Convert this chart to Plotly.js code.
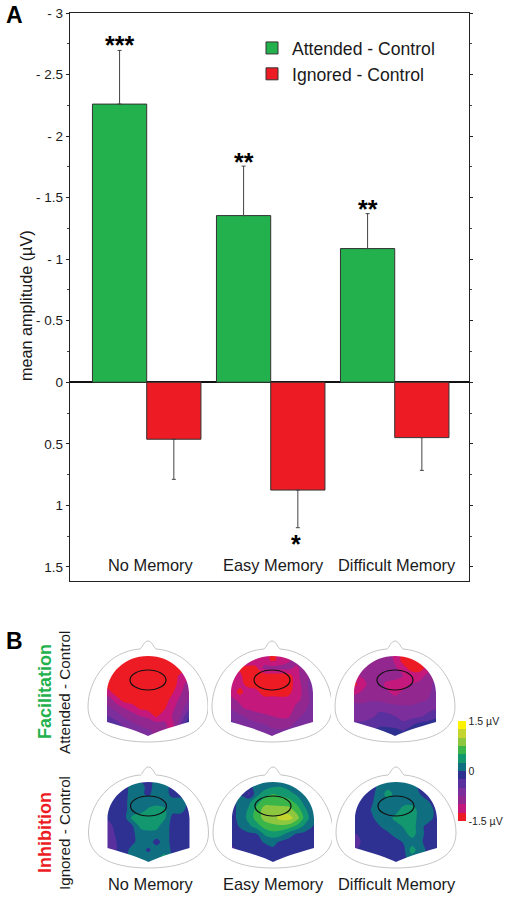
<!DOCTYPE html>
<html><head><meta charset="utf-8">
<script src="https://cdn.plot.ly/plotly-3.0.1.min.js"></script>
<style>html,body{margin:0;padding:0;background:#fff}#c{width:509px;height:901px}</style>
</head><body><div id="c"></div>
<script>
const conditions = ['No Memory','Easy Memory','Difficult Memory'];
const attendedMean = [-2.26,-1.354,-1.086];
const attendedErr  = [0.436,0.402,0.284];
const ignoredMean  = [0.463,0.876,0.45];
const ignoredErr   = [0.326,0.306,0.266];
const yTickVals = [-3,-2.5,-2,-1.5,-1,-0.5,0,0.5,1,1.5];
const yTickText = ['- 3','- 2.5','- 2','- 1.5','- 1','- 0.5','0','0.5','1','1.5'];
const yMinorVals = [-2.75,-2.25,-1.75,-1.25,-0.75,-0.25,0.25,0.75,1.25];

// scalp grids (µV): rows run front to back, columns left to right
const gridX = [-48,-40,-32,-24,-16,-8,0,8,16,24,32,40,48];
const gridY = [-4,4,12,20,28,36,44,52,60,68,76,84];
const mapAttNo = [
[-1.4,-1.4,-1.4,-1.4,-1.4,-1.4,-1.4,-1.4,-1.4,-1.4,-1.4,-1.4,-1.4],
[-1.4,-1.4,-1.4,-1.4,-1.4,-1.4,-1.4,-1.4,-1.4,-1.4,-1.4,-1.4,-1.4],
[-1.4,-1.4,-1.4,-1.4,-1.4,-1.4,-1.4,-1.4,-1.4,-1.4,-1.4,-1.3,-1.2],
[-1.4,-1.4,-1.4,-1.4,-1.4,-1.4,-1.4,-1.4,-1.4,-1.4,-1.2,-1.05,-0.9],
[-1.4,-1.4,-1.4,-1.4,-1.4,-1.4,-1.4,-1.4,-1.4,-1.4,-1.15,-0.9,-0.7],
[-1.1,-1.15,-1.4,-1.4,-1.4,-1.4,-1.4,-1.4,-1.4,-1.3,-1.05,-0.85,-0.6],
[-0.8,-0.85,-1.1,-1.35,-1.4,-1.4,-1.4,-1.4,-1.4,-1.15,-0.95,-0.75,-0.5],
[-0.6,-0.7,-0.85,-1.0,-1.1,-1.3,-1.35,-1.4,-1.3,-1.05,-0.9,-0.6,-0.3],
[-0.4,-0.5,-0.6,-0.8,-0.9,-1.0,-1.05,-1.3,-1.1,-1.0,-0.8,-0.3,-0.1],
[-0.3,-0.35,-0.42,-0.55,-0.7,-0.8,-0.85,-0.9,-0.95,-1.1,-0.6,-0.15,-0.1],
[-0.3,-0.35,-0.4,-0.45,-0.5,-0.6,-0.7,-0.8,-0.95,-1.05,-0.7,-0.3,-0.2],
[-0.3,-0.35,-0.4,-0.45,-0.5,-0.6,-0.7,-0.8,-0.95,-1.0,-0.7,-0.3,-0.2]];
const mapAttEasy = [
[-1.0,-1.0,-1.0,-1.0,-1.0,-1.1,-1.3,-1.2,-1.0,-0.9,-0.9,-0.8,-0.8],
[-1.0,-1.0,-1.0,-1.0,-1.1,-1.1,-1.3,-1.2,-1.05,-0.9,-0.9,-0.8,-0.8],
[-1.3,-1.3,-1.3,-1.35,-1.3,-0.95,-0.9,-0.9,-0.9,-1.05,-0.9,-0.8,-0.7],
[-1.1,-1.1,-1.2,-1.4,-1.4,-1.4,-1.4,-1.4,-1.4,-1.1,-0.85,-0.7,-0.6],
[-1.0,-1.05,-1.15,-1.35,-1.4,-1.4,-1.4,-1.4,-1.4,-1.15,-0.9,-0.6,-0.55],
[-1.0,-1.1,-1.35,-1.1,-1.15,-1.4,-1.4,-1.4,-1.35,-1.12,-0.95,-0.6,-0.5],
[-0.9,-0.95,-1.05,-1.1,-1.12,-1.12,-1.12,-1.15,-1.15,-1.05,-0.95,-0.65,-0.5],
[-0.7,-0.8,-0.95,-1.05,-1.1,-1.12,-1.12,-1.15,-1.15,-0.95,-0.85,-0.6,-0.5],
[-0.55,-0.6,-0.7,-0.8,-0.9,-0.95,-1.0,-1.05,-1.05,-0.85,-0.7,-0.6,-0.5],
[-0.4,-0.45,-0.55,-0.65,-0.7,-0.75,-0.8,-0.85,-0.85,-0.7,-0.6,-0.5,-0.4],
[-0.35,-0.4,-0.45,-0.5,-0.6,-0.65,-0.7,-0.7,-0.65,-0.55,-0.5,-0.4,-0.4],
[-0.35,-0.4,-0.45,-0.5,-0.6,-0.65,-0.7,-0.7,-0.65,-0.55,-0.5,-0.4,-0.4]];
const mapAttDiff = [
[-0.8,-0.8,-0.8,-0.8,-0.8,-0.85,-1.05,-1.3,-1.35,-1.2,-1.0,-0.8,-0.8],
[-0.8,-0.8,-0.8,-0.8,-0.8,-0.85,-1.05,-1.35,-1.4,-1.3,-1.05,-0.8,-0.8],
[-0.8,-0.8,-0.8,-0.8,-0.75,-0.8,-0.95,-1.15,-1.35,-1.4,-1.15,-0.8,-0.75],
[-1.0,-1.05,-0.95,-0.8,-0.75,-0.8,-0.9,-1.0,-1.1,-1.1,-0.95,-0.75,-0.7],
[-1.2,-1.3,-1.12,-0.85,-0.85,-1.1,-1.12,-1.12,-1.0,-0.95,-0.85,-0.7,-0.65],
[-1.0,-1.1,-0.95,-0.8,-0.8,-0.95,-1.1,-0.95,-0.95,-0.85,-0.8,-0.7,-0.65],
[-0.75,-0.78,-0.78,-0.78,-0.8,-0.85,-0.88,-0.85,-0.85,-0.8,-0.75,-0.65,-0.6],
[-0.7,-0.7,-0.7,-0.55,-0.55,-0.6,-0.65,-0.7,-0.7,-0.65,-0.6,-0.55,-0.5],
[-0.65,-0.62,-0.6,-0.55,-0.45,-0.45,-0.5,-0.6,-0.6,-0.55,-0.45,-0.3,-0.2],
[-0.5,-0.45,-0.45,-0.4,-0.35,-0.35,-0.4,-0.45,-0.3,-0.2,-0.15,-0.15,-0.1],
[-0.35,-0.35,-0.35,-0.3,-0.1,-0.1,-0.1,-0.25,-0.15,-0.1,-0.1,-0.1,-0.1],
[-0.35,-0.35,-0.35,-0.3,-0.1,-0.1,-0.1,-0.25,-0.15,-0.1,-0.1,-0.1,-0.1]];
const mapIgnNo = [
[-0.1,-0.1,-0.1,-0.1,0.1,-0.1,-0.1,0.1,0.1,-0.1,-0.1,-0.1,-0.1],
[-0.1,-0.1,-0.1,-0.1,0.12,0.1,-0.1,0.12,0.12,-0.1,-0.1,-0.1,-0.1],
[-0.1,-0.1,-0.1,-0.1,0.14,0.05,-0.05,0.14,0.1,-0.08,-0.1,-0.1,-0.1],
[-0.1,-0.1,-0.1,-0.05,0.1,0.12,0.12,0.14,0.14,0.1,0.12,-0.05,-0.1],
[-0.15,-0.15,-0.12,-0.05,0.1,0.14,0.3,0.4,0.3,0.08,0.08,-0.08,-0.1],
[-0.25,-0.2,-0.15,-0.08,0.32,0.42,0.42,0.42,0.3,-0.08,-0.1,-0.1,-0.1],
[-0.4,-0.35,-0.15,-0.1,-0.02,0.32,0.4,0.35,0.08,-0.05,-0.1,-0.1,-0.1],
[-0.45,-0.4,-0.2,-0.1,-0.05,0.12,0.14,0.14,0.12,-0.08,-0.1,-0.1,-0.1],
[-0.45,-0.4,-0.25,-0.1,-0.05,0.1,0.12,-0.1,0.12,-0.08,-0.1,-0.1,-0.1],
[-0.4,-0.35,-0.25,-0.1,0.1,0.1,-0.05,0.14,0.14,-0.05,-0.1,-0.3,-0.2],
[-0.3,-0.3,-0.2,-0.08,0.12,0.12,0.14,0.15,0.38,-0.05,-0.1,-0.1,-0.1],
[-0.3,-0.3,-0.2,-0.08,0.06,0.12,0.12,0.12,0.1,-0.05,-0.1,-0.1,-0.1]];
const mapIgnEasy = [
[-0.1,-0.1,-0.1,-0.1,-0.05,0.02,0.08,0.08,0.02,-0.1,-0.1,-0.1,-0.1],
[-0.1,-0.1,-0.1,-0.08,0.1,0.13,0.2,0.22,0.14,0.06,-0.02,-0.1,-0.1],
[-0.1,-0.08,-0.02,-0.3,0.18,0.38,0.5,0.45,0.35,0.2,0.08,-0.05,-0.1],
[-0.1,-0.05,0.06,0.2,0.42,0.65,0.65,0.62,0.6,0.42,0.15,0.0,-0.1],
[-0.1,-0.05,0.08,0.3,0.6,0.88,0.88,0.88,0.85,0.65,0.3,0.05,-0.1],
[-0.1,-0.05,0.08,0.35,0.62,0.85,0.9,1.1,1.12,0.85,0.4,0.08,-0.1],
[-0.1,-0.08,0.04,0.2,0.4,0.62,0.7,0.7,0.65,0.45,0.2,0.0,-0.1],
[-0.15,-0.1,-0.08,-0.05,0.0,0.3,0.4,0.35,0.12,-0.03,-0.08,-0.1,-0.1],
[-0.25,-0.15,-0.1,-0.1,-0.05,0.02,0.08,-0.05,-0.1,-0.1,-0.1,-0.1,-0.1],
[-0.35,-0.32,-0.15,-0.1,-0.1,-0.08,-0.05,-0.1,-0.1,-0.1,-0.15,-0.3,-0.15],
[-0.35,-0.3,-0.15,-0.1,-0.1,-0.1,-0.1,-0.1,-0.1,-0.1,-0.2,-0.32,-0.2],
[-0.3,-0.3,-0.15,-0.1,-0.1,-0.1,-0.1,-0.1,-0.1,-0.1,-0.15,-0.25,-0.2]];
const mapIgnDiff = [
[-0.1,-0.1,-0.1,-0.1,0.03,0.1,0.12,0.1,0.04,-0.1,-0.1,-0.1,-0.1],
[-0.1,-0.1,-0.1,-0.1,0.08,0.14,0.14,0.14,0.08,-0.05,-0.1,-0.1,-0.1],
[-0.1,-0.1,-0.1,-0.05,0.1,0.38,0.14,0.12,0.12,0.0,-0.1,-0.1,-0.1],
[-0.1,-0.1,-0.1,-0.02,0.12,0.14,0.14,0.14,0.13,0.08,0.02,-0.1,-0.1],
[-0.1,-0.1,-0.1,0.02,0.12,0.13,0.14,0.4,0.42,0.12,0.1,-0.05,-0.1],
[-0.1,-0.1,-0.1,-0.03,0.1,0.14,0.35,0.42,0.42,0.12,0.08,-0.05,-0.1],
[-0.15,-0.15,-0.1,-0.08,0.0,0.13,0.13,0.3,0.42,0.05,-0.05,-0.08,-0.1],
[-0.2,-0.25,-0.18,-0.1,-0.08,-0.05,0.1,0.14,0.38,0.1,-0.1,-0.1,-0.1],
[-0.25,-0.32,-0.2,-0.1,-0.1,-0.1,-0.1,0.03,0.12,0.05,-0.1,-0.1,-0.1],
[-0.25,-0.25,-0.15,-0.1,-0.1,-0.1,-0.1,-0.05,0.38,0.1,-0.05,-0.1,-0.2],
[-0.2,-0.2,-0.1,-0.1,-0.1,-0.1,-0.1,-0.05,0.12,0.05,-0.1,-0.1,-0.25],
[-0.2,-0.2,-0.1,-0.1,-0.1,-0.1,-0.1,-0.08,0.02,0.02,-0.1,-0.1,-0.2]];
const scalpMaps = [mapAttNo,mapAttEasy,mapAttDiff,mapIgnNo,mapIgnEasy,mapIgnDiff];

const bandColors = ['#ed1c24','#c4187c','#92278f','#7b2e9c','#5a2f9e','#2e3192','#0f6f80','#12976f','#39b54a','#8dc63f','#c4d52f','#fff200'];
const bandScale = bandColors.flatMap((c,i)=>[[i/12,c],[(i+1)/12,c]]);

const W=509,H=901;
const fx=p=>p/W, fy=p=>1-p/H;
const layout = {
  width:W,height:H,margin:{l:0,r:0,t:0,b:0},paper_bgcolor:'#fff',plot_bgcolor:'rgba(0,0,0,0)',
  font:{family:'Liberation Sans, Arial, sans-serif',color:'#1a1a1a',size:14},
  barmode:'group',bargap:0.125,bargroupgap:0,
  showlegend:true,
  legend:{x:fx(252),y:fy(30),xanchor:'left',yanchor:'top',bgcolor:'rgba(0,0,0,0)',
    font:{size:17.6,color:'#1a1a1a'},tracegroupgap:0,itemclick:false},
  xaxis:{domain:[fx(70),fx(469)],range:[-0.6185,2.599],type:'category',categoryorder:'array',categoryarray:conditions,
    showticklabels:false,ticks:'',showgrid:false,zeroline:false,showline:true,mirror:true,linecolor:'#222',linewidth:1.3,anchor:'y'},
  yaxis:{domain:[fy(581),fy(13)],range:[1.615,-3],tickmode:'array',tickvals:yTickVals,ticktext:yTickText,
    ticks:'outside',ticklen:3,tickwidth:1,tickcolor:'#222',showgrid:false,zeroline:true,zerolinecolor:'#111',zerolinewidth:1.5,
    showline:true,mirror:'ticks',linecolor:'#222',linewidth:1.3,tickfont:{size:13.5,color:'#1a1a1a'},anchor:'x',
    minor:{tickmode:'array',tickvals:yMinorVals,ticks:'outside',ticklen:2,tickcolor:'#444',tickwidth:1,showgrid:false}},
  annotations:[],shapes:[]
};
const note=(o)=>layout.annotations.push(Object.assign({showarrow:false,xref:'paper',yref:'paper'},o));
const px=(x,y,text,size,extra)=>note(Object.assign({x:fx(x),y:fy(y),text,font:{size},xanchor:'center',yanchor:'middle'},extra||{}));

// panel letters, axis title, side titles
px(14,15,'<b>A</b>',23,{font:{size:23,color:'#000'}});
px(14,641,'<b>B</b>',23,{font:{size:23,color:'#000'}});
px(26,306,'mean amplitude (µV)',16.2,{textangle:-90});
px(45,692,'<b>Facilitation</b>',18,{textangle:-90,font:{size:18,color:'#22b14c'}});
px(64,692,'Attended - Control',15.2,{textangle:-90});
px(45,833,'<b>Inhibition</b>',18,{textangle:-90,font:{size:18,color:'#ed1c24'}});
px(64,833,'Ignored - Control',15.2,{textangle:-90});

// significance stars on the bars
const stars=[['***',0,-0.219,-2.78],['**',1,-0.219,-1.83],['**',2,-0.219,-1.45],['*',1,0.2,1.27]];
stars.forEach(s=>layout.annotations.push({xref:'x',yref:'y',x:s[1]+s[2],y:s[3],text:'<b>'+s[0]+'</b>',showarrow:false,font:{size:25,color:'#000'},yshift:-5}));
// category labels
const labelCenters=[151,273,397];
conditions.forEach((c,i)=>{px(labelCenters[i],565,c,16.4);px(labelCenters[i],884,c,16.4);});

const traces=[
 {type:'bar',name:'Attended - Control',x:conditions,y:attendedMean,marker:{color:'#22b14c',line:{color:'#333',width:1}},
  error_y:{type:'data',symmetric:false,array:[0,0,0],arrayminus:attendedErr,color:'#444',thickness:1,width:2}},
 {type:'bar',name:'Ignored - Control',x:conditions,y:ignoredMean,marker:{color:'#ed1c24',line:{color:'#333',width:1}},
  error_y:{type:'data',symmetric:false,array:ignoredErr,arrayminus:[0,0,0],color:'#444',thickness:1,width:2}}
];

// scalp maps
const mapCx=[148,272,395,148.5,273,396], mapTop=[656,656,656,782,782,782];
const dome='M-41,66 L-41,37 C-41,18 -24,0 0,0 C24,0 41,18 41,37 L41,66 Q12,74 0,80 Q-12,74 -41,66 Z';
const head='M-8,-7 C-6,-8 -4,-15 0,-15 C4,-15 6,-8 8,-7 C38,-5 60,22 60,51 C60,78 30,86 0,86 C-30,86 -60,78 -60,51 C-60,22 -38,-5 -8,-7 Z';
scalpMaps.forEach((z,i)=>{
  const n=i+2, xa='x'+n, ya='y'+n, cx=mapCx[i], top=mapTop[i];
  layout['xaxis'+n]={domain:[fx(cx-64),fx(cx+64)],range:[-64,64],visible:false,fixedrange:true,anchor:ya};
  layout['yaxis'+n]={domain:[fy(top+89),fy(top-17)],range:[89,-17],visible:false,fixedrange:true,anchor:xa};
  const t={type:'contour',x:gridX,y:gridY,z,xaxis:xa,yaxis:ya,showlegend:false,showscale:i===0,hoverinfo:'skip',
    colorscale:bandScale,zmin:-1.5,zmax:1.5,autocontour:false,
    contours:{start:-1.25,end:1.25,size:0.25,coloring:'fill',showlines:false},line:{width:0}};
  if(i===0) t.colorbar={x:fx(458),xanchor:'left',y:fy(771),yanchor:'middle',thickness:8,thicknessmode:'pixels',len:100,lenmode:'pixels',
    xpad:0,ypad:0,outlinewidth:0,ticks:'',tickmode:'array',tickvals:[-1.5,0,1.5],ticktext:['-1.5 µV','0','1.5 µV'],tickfont:{size:10.5,color:'#222'},ticklabelposition:'outside'};
  traces.push(t);
  const mask='M-64,-17 H64 V89 H-64 Z '+dome;
  layout.shapes.push({type:'path',xref:xa,yref:ya,path:mask,fillcolor:'#fff',fillrule:'evenodd',line:{width:0},layer:'above'});
  layout.shapes.push({type:'path',xref:xa,yref:ya,path:head,line:{color:'#b5b5b5',width:0.8},layer:'above'});
  layout.shapes.push({type:'circle',xref:xa,yref:ya,x0:-18,x1:18,y0:14,y1:34,line:{color:'#111',width:1.2},layer:'above'});
});

Plotly.newPlot('c',traces,layout,{displayModeBar:false,staticPlot:true});
</script></body></html>
